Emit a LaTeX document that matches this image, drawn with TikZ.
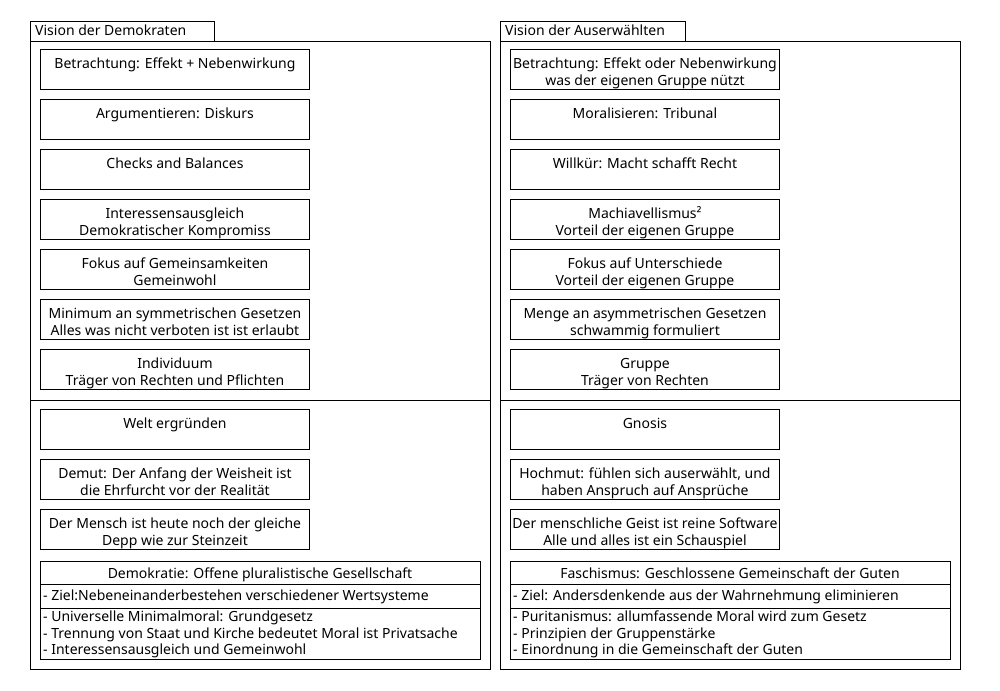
\documentclass[tikz,border=0pt]{standalone}
\usepackage{fontspec}
\setmainfont{Noto Sans}
\begin{document}
\begin{tikzpicture}[x=1pt,y=-1pt,
  frame/.style={draw, line width=0.9pt},
  box/.style={draw, line width=0.9pt, minimum width=269pt, minimum height=40pt, inner sep=0pt, anchor=north west},
  txt/.style={anchor=north, inner sep=0pt, align=center, font=\fontsize{14}{17}\selectfont},
  lbl/.style={anchor=base west, inner sep=0pt, font=\fontsize{14}{17}\selectfont},
  lst/.style={anchor=north west, inner sep=0pt, align=left, font=\fontsize{14}{16.5}\selectfont},
  big/.style={draw, line width=0.9pt, minimum width=440pt, minimum height=98pt, inner sep=0pt, anchor=north west}
]
\useasboundingbox (0,0) rectangle (1000,690);

% ---------- left frame ----------
\draw[frame] (30,41) rectangle (490,669);
\draw[frame] (30,21) rectangle (214,41);
\node[lbl] (ltab) at (35,36) {Vision der Demokraten};
\draw[frame] (30,400) -- (490,400);

\node[box] (l1) at (40,49) {};
\node[txt] (l1t) at ([yshift=-7pt]l1.north) {\strut Betrachtung: Effekt + Nebenwirkung};
\node[box] (l2) at (40,99) {};
\node[txt] (l2t) at ([yshift=-7pt]l2.north) {\strut Argumentieren: Diskurs};
\node[box] (l3) at (40,149) {};
\node[txt] (l3t) at ([yshift=-7pt]l3.north) {\strut Checks and Balances};
\node[box] (l4) at (40,199) {};
\node[txt] (l4t) at ([yshift=-7pt]l4.north) {\strut Interessensausgleich\\\strut Demokratischer Kompromiss};
\node[box] (l5) at (40,249) {};
\node[txt] (l5t) at ([yshift=-7pt]l5.north) {\strut Fokus auf Gemeinsamkeiten\\\strut Gemeinwohl};
\node[box] (l6) at (40,299) {};
\node[txt] (l6t) at ([yshift=-7pt]l6.north) {\strut Minimum an symmetrischen Gesetzen\\\strut Alles was nicht verboten ist ist erlaubt};
\node[box] (l7) at (40,349) {};
\node[txt] (l7t) at ([yshift=-7pt]l7.north) {\strut Individuum\\\strut Träger von Rechten und Pflichten};

\node[box] (l8) at (40,409) {};
\node[txt] (l8t) at ([yshift=-7pt]l8.north) {\strut Welt ergründen};
\node[box] (l9) at (40,459) {};
\node[txt] (l9t) at ([yshift=-7pt]l9.north) {\strut Demut: Der Anfang der Weisheit ist\\\strut die Ehrfurcht vor der Realität};
\node[box] (l10) at (40,509) {};
\node[txt] (l10t) at ([yshift=-7pt]l10.north) {\strut Der Mensch ist heute noch der gleiche\\\strut Depp wie zur Steinzeit};

\node[big] (ld) at (40,561) {};
\draw[line width=0.9pt] (40,584) -- (480,584);
\draw[line width=0.9pt] (40,608) -- (480,608);
\node[lbl, anchor=base] (ldh) at (260,578) {Demokratie: Offene pluralistische Gesellschaft};
\node[lbl] (ldz) at (43,600) {- Ziel:Nebeneinanderbestehen verschiedener Wertsysteme};
\node[lst] (ldl) at (43,610) {\strut - Universelle Minimalmoral: Grundgesetz\\\strut - Trennung von Staat und Kirche bedeutet Moral ist Privatsache\\\strut - Interessensausgleich und Gemeinwohl};

% ---------- right frame ----------
\draw[frame] (500,41) rectangle (960,669);
\draw[frame] (500,21) rectangle (685,41);
\node[lbl] (rtab) at (505,36) {Vision der Auserwählten};
\draw[frame] (500,400) -- (960,400);

\node[box] (r1) at (510,49) {};
\node[txt] (r1t) at ([yshift=-7pt]r1.north) {\strut Betrachtung: Effekt oder Nebenwirkung\\\strut was der eigenen Gruppe nützt};
\node[box] (r2) at (510,99) {};
\node[txt] (r2t) at ([yshift=-7pt]r2.north) {\strut Moralisieren: Tribunal};
\node[box] (r3) at (510,149) {};
\node[txt] (r3t) at ([yshift=-7pt]r3.north) {\strut Willkür: Macht schafft Recht};
\node[box] (r4) at (510,199) {};
\node[txt] (r4t) at ([yshift=-7pt]r4.north) {\strut Machiavellismus²\\\strut Vorteil der eigenen Gruppe};
\node[box] (r5) at (510,249) {};
\node[txt] (r5t) at ([yshift=-7pt]r5.north) {\strut Fokus auf Unterschiede\\\strut Vorteil der eigenen Gruppe};
\node[box] (r6) at (510,299) {};
\node[txt] (r6t) at ([yshift=-7pt]r6.north) {\strut Menge an asymmetrischen Gesetzen\\\strut schwammig formuliert};
\node[box] (r7) at (510,349) {};
\node[txt] (r7t) at ([yshift=-7pt]r7.north) {\strut Gruppe\\\strut Träger von Rechten};

\node[box] (r8) at (510,409) {};
\node[txt] (r8t) at ([yshift=-7pt]r8.north) {\strut Gnosis};
\node[box] (r9) at (510,459) {};
\node[txt] (r9t) at ([yshift=-7pt]r9.north) {\strut Hochmut: fühlen sich auserwählt, und\\\strut haben Anspruch auf Ansprüche};
\node[box] (r10) at (510,509) {};
\node[txt] (r10t) at ([yshift=-7pt]r10.north) {\strut Der menschliche Geist ist reine Software\\\strut Alle und alles ist ein Schauspiel};

\node[big] (rd) at (510,561) {};
\draw[line width=0.9pt] (510,584) -- (950,584);
\draw[line width=0.9pt] (510,608) -- (950,608);
\node[lbl, anchor=base] (rdh) at (730,578) {Faschismus: Geschlossene Gemeinschaft der Guten};
\node[lbl] (rdz) at (513,600) {- Ziel: Andersdenkende aus der Wahrnehmung eliminieren};
\node[lst] (rdl) at (513,610) {\strut - Puritanismus: allumfassende Moral wird zum Gesetz\\\strut - Prinzipien der Gruppenstärke\\\strut - Einordnung in die Gemeinschaft der Guten};
\end{tikzpicture}
\end{document}
